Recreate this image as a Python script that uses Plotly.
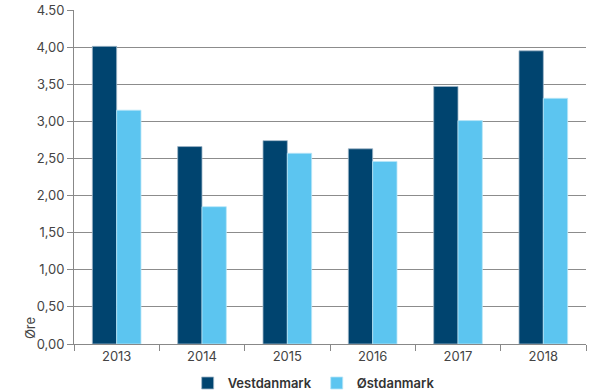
import plotly.graph_objects as go

# Annual values (øre) for the two price areas
years = ["2013", "2014", "2015", "2016", "2017", "2018"]
vest = [4.01, 2.66, 2.74, 2.63, 3.47, 3.95]
oest = [3.15, 1.85, 2.57, 2.46, 3.01, 3.31]

y_tickvals = [0, 0.5, 1, 1.5, 2, 2.5, 3, 3.5, 4, 4.5]
y_ticktext = ["0,00", "0,50", "1,00", "1,50", "2,00", "2,50", "3,00", "3,50", "4,00", "4.50"]

DARK = "#00446F"
LIGHT = "#5CC5F0"
FONT = "Inter, Roboto, sans-serif"

fig = go.Figure()
fig.add_trace(go.Bar(name="Vestdanmark", x=years, y=vest,
                     marker=dict(color=DARK, line=dict(color="#9fb6c8", width=0.8))))
fig.add_trace(go.Bar(name="Østdanmark", x=years, y=oest,
                     marker=dict(color=LIGHT, line=dict(color="#b8e6f8", width=0.8))))

fig.update_layout(
    width=590, height=390,
    margin=dict(l=74, r=4, t=10, b=46, autoexpand=False),
    paper_bgcolor="white", plot_bgcolor="white",
    barmode="group", bargap=0.43, bargroupgap=0,
    font=dict(family=FONT, size=13, color="#444444"),
    showlegend=True,
    legend=dict(orientation="h", x=0.222, y=-0.072, xanchor="left", yanchor="top",
                font=dict(family=FONT, size=13, color="#333333", weight=600),
                itemwidth=30, traceorder="normal", bgcolor="rgba(0,0,0,0)"),
    xaxis=dict(showgrid=False, showline=True, linecolor="#888888", linewidth=1,
               ticks="outside", tickson="boundaries", ticklen=6, tickcolor="#888888",
               tickfont=dict(size=13, color="#444444")),
    yaxis=dict(range=[0, 4.5], tickvals=y_tickvals, ticktext=y_ticktext,
               showgrid=True, gridcolor="#8c8c8c", gridwidth=1,
               showline=True, linecolor="#888888", linewidth=1,
               ticks="outside", ticklen=6, tickcolor="#888888",
               tickfont=dict(size=13, color="#444444"), zeroline=False),
)

fig.add_annotation(text="Øre", xref="paper", yref="paper", x=-0.104, y=0.008,
                   textangle=-90, showarrow=False,
                   font=dict(family=FONT, size=13, color="#444444"))

fig.write_html("out.html")
